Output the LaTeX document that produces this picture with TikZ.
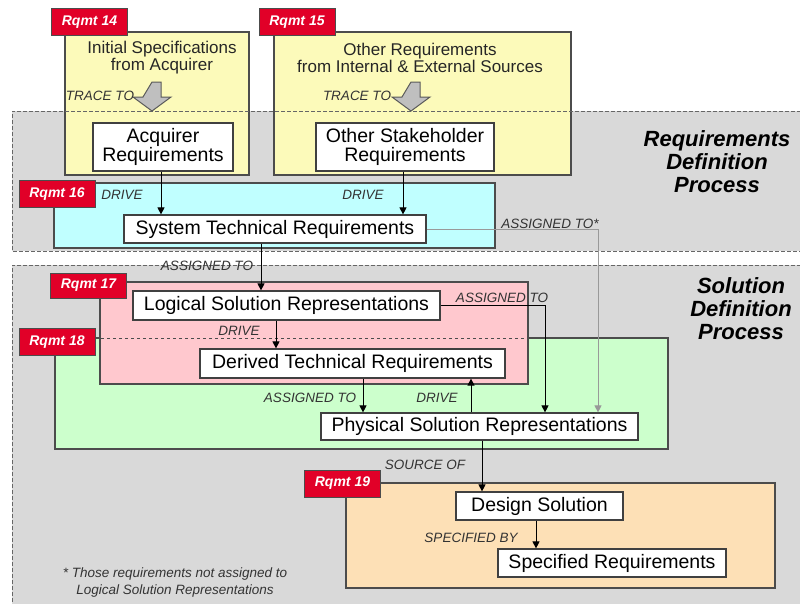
\documentclass[tikz,border=0pt]{standalone}
\usepackage{fontspec}
\setmainfont{Liberation Sans}
\usetikzlibrary{arrows.meta}
\definecolor{rqred}{RGB}{225,0,40}
\definecolor{rgngray}{RGB}{217,217,217}
\definecolor{srcyel}{RGB}{252,250,186}
\definecolor{strcyan}{RGB}{192,255,255}
\definecolor{lsrpink}{RGB}{255,200,206}
\definecolor{psrgreen}{RGB}{204,255,204}
\definecolor{dspeach}{RGB}{253,224,182}
\def\tracearrow{-- ++(9,0) -- ++(0,15) -- ++(10,0) -- ++(-19,14) -- ++(-19,-14) -- ++(10,0) -- cycle}
\def\flow{\draw[black,line width=0.9pt,-{Triangle[length=7pt,width=7pt]}]}
\def\gflow{\draw[black!40,line width=0.9pt,-{Triangle[length=7pt,width=7pt]}]}

\begin{document}
\begin{tikzpicture}[x=1pt,y=-1pt,
    tag/.style={fill=rqred,draw=black!70,text=white,minimum width=76,minimum height=27,inner sep=0,
      font=\fontsize{14}{14}\selectfont\bfseries\itshape},
    req/.style={fill=white,draw=black!75,line width=1.2pt,align=center,inner sep=0,
      font=\fontsize{19.5}{19.5}\selectfont},
    src/.style={align=center,inner sep=0,text=black!85,font=\fontsize{17}{17}\selectfont},
    lbl/.style={inner sep=0,text=black!80,font=\fontsize{13.5}{17}\selectfont\itshape},
    title/.style={align=center,inner sep=0,font=\fontsize{22}{23}\selectfont\bfseries\itshape},
    area/.style={draw=black!70,line width=1.2pt},
    rim/.style={draw=black!60,line width=0.8pt,dash pattern=on 4pt off 2pt}]
  \useasboundingbox (0,0) rectangle (800,603);
  \fill[rgngray] (12,111) rectangle (801,251);
  \fill[rgngray] (12,265) rectangle (801,604);
  % sources
  \draw[area,fill=srcyel] (65,32) rectangle (249,175);
  \draw[area,fill=srcyel] (274,32) rectangle (571,175);
  \draw[rim] (801,111) -- (12,111) -- (12,251) -- (801,251);
  \draw[rim] (801,265) -- (12,265) -- (12,604);
  \draw[black!65,fill=black!25,line width=1pt] (152,82) \tracearrow;
  \draw[black!65,fill=black!25,line width=1pt] (411,82) \tracearrow;
  % coloured areas
  \draw[area,fill=strcyan] (54,183) rectangle (495,248);
  \draw[area,fill=psrgreen] (55,338) rectangle (668,449);
  \draw[area,fill=lsrpink] (100,282) rectangle (528,384);
  \draw[black!70,line width=1pt,dashed] (95,338) -- (528,338);
  \draw[area,fill=dspeach] (346,483) rectangle (775,588);
  % tags
  \node[tag] (t14) at (89.5,22) {Rqmt 14};
  \node[tag] (t15) at (297,22) {Rqmt 15};
  \node[tag] (t16) at (57,194) {Rqmt 16};
  \node[tag,minimum height=25] (t17) at (88.5,285.5) {Rqmt 17};
  \node[tag] (t18) at (57,342) {Rqmt 18};
  \node[tag] (t19) at (342.5,483.5) {Rqmt 19};
  % titles
  \node[title] (rdp) at (717,162) {Requirements\\Definition\\Process};
  \node[title] (sdp) at (741,309) {Solution\\Definition\\Process};
  \node[src] (isa) at (162,58) {Initial Specifications\\from Acquirer};
  \node[src] (oie) at (420,58) {Other Requirements\\from Internal \& External Sources};
  \node[lbl] (tr1) at (100,96) {TRACE TO};
  \node[lbl] (tr2) at (357,96) {TRACE TO};
  % requirement boxes
  \node[req,minimum width=140,minimum height=48] (acq) at (163,147) {Acquirer\\Requirements};
  \node[req,minimum width=178,minimum height=48] (osr) at (405,147) {Other Stakeholder\\Requirements};
  \node[req,minimum width=302,minimum height=28] (str) at (275,229) {System Technical Requirements};
  \node[req,minimum width=307,minimum height=29] (lsr) at (286.5,305.5) {Logical Solution Representations};
  \node[req,minimum width=305,minimum height=29] (dtr) at (352.5,363.5) {Derived Technical Requirements};
  \node[req,minimum width=317,minimum height=27] (psr) at (479.5,426.5) {Physical Solution Representations};
  \node[req,minimum width=167,minimum height=28] (ds) at (539.5,506) {Design Solution};
  \node[req,minimum width=228,minimum height=28] (sr) at (612,563) {Specified Requirements};
  % links
  \gflow (str.east) -| ([xshift=118.5]psr.north);
  \flow ([xshift=-2]acq.south) -- ([xshift=-2]acq.south |- str.north);
  \flow ([xshift=-2]osr.south) -- ([xshift=-2]osr.south |- str.north);
  \flow ([xshift=-14]str.south) -- ([xshift=-14]str.south |- lsr.north);
  \flow ([xshift=-10.5]lsr.south) -- ([xshift=-10.5]lsr.south |- dtr.north);
  \flow ([xshift=10.5]dtr.south) -- ([xshift=10.5]dtr.south |- psr.north);
  \flow ([xshift=-8.5]psr.north) -- ([xshift=-8.5]psr.north |- dtr.south);
  \flow (lsr.east) -| ([xshift=65.5]psr.north);
  \flow ([xshift=2.5]psr.south) -- ([xshift=2.5]psr.south |- ds.north);
  \flow ([xshift=-3.5]ds.south) -- ([xshift=-3.5]ds.south |- sr.north);
  % link labels
  \node[lbl] (d1) at (122,195) {DRIVE};
  \node[lbl] (d2) at (363,195) {DRIVE};
  \node[lbl,anchor=base] (a0) at (550,228) {ASSIGNED TO*};
  \node[lbl] (a1) at (207,266) {ASSIGNED TO};
  \node[lbl] (d3) at (239,331) {DRIVE};
  \node[lbl] (a2) at (502,298) {ASSIGNED TO};
  \node[lbl] (a3) at (310,398) {ASSIGNED TO};
  \node[lbl] (d4) at (437,398) {DRIVE};
  \node[lbl] (so) at (425,465) {SOURCE OF};
  \node[lbl] (sb) at (471,538) {SPECIFIED BY};
  \node[lbl,align=center] (fn) at (175,582) {* Those requirements not assigned to\\Logical Solution Representations};
\end{tikzpicture}
\end{document}
